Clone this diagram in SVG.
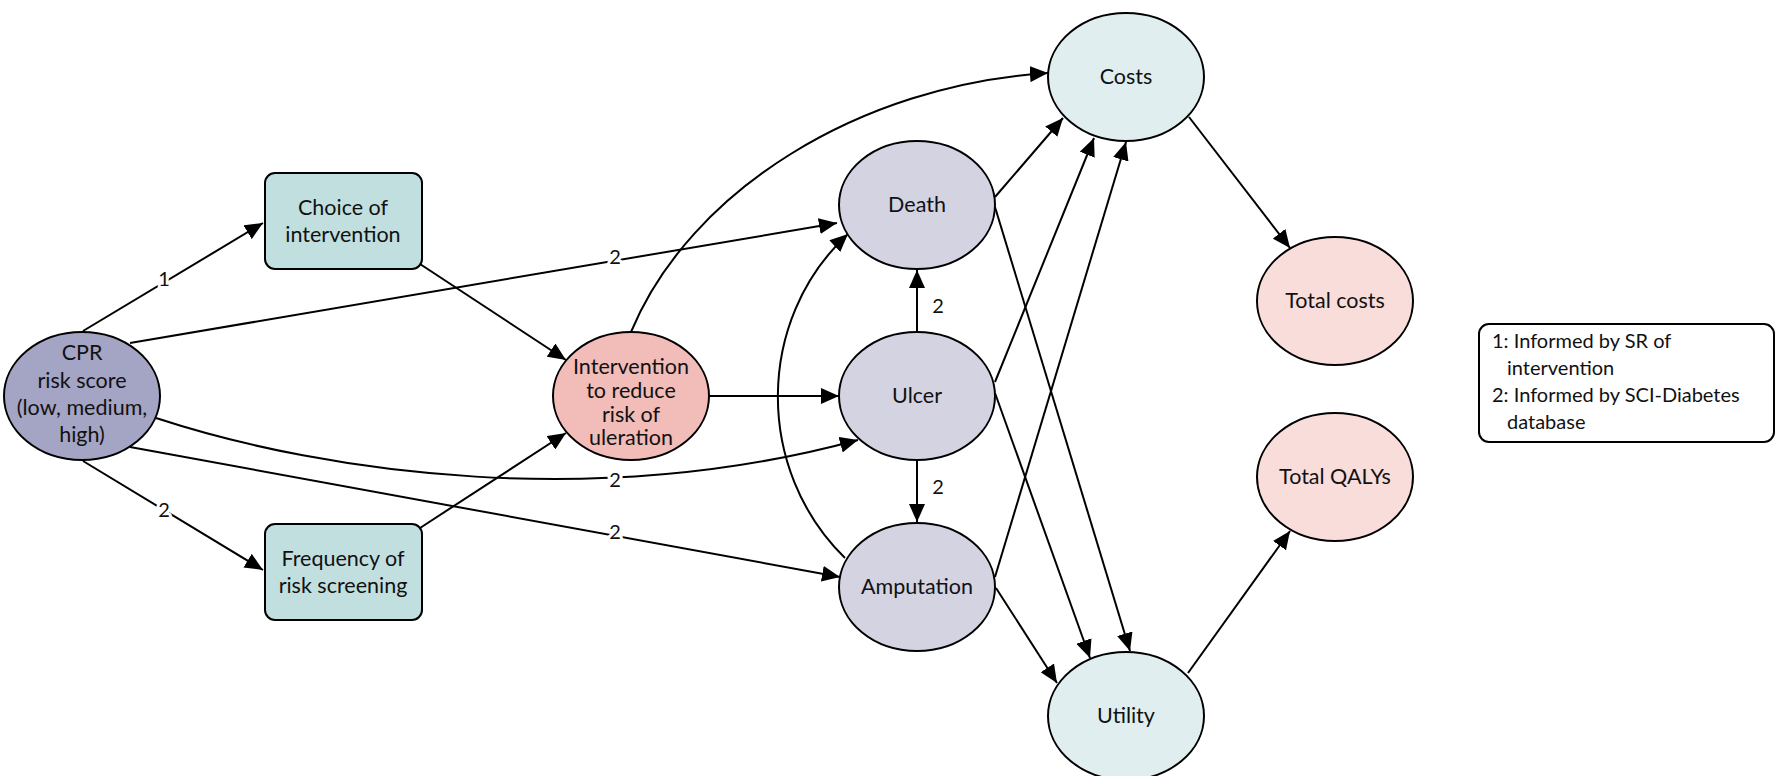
<svg xmlns="http://www.w3.org/2000/svg" width="1785" height="776" viewBox="0 0 1785 776">
<defs>
<marker id="arr" markerWidth="18" markerHeight="16" refX="18" refY="8" orient="auto" markerUnits="userSpaceOnUse">
<path d="M0,0 L18,8 L0,16 Z" fill="#000"/>
</marker>
<style>
text{font-family:Lato,"Noto Sans","Liberation Sans",sans-serif;font-size:21.5px;fill:#111;text-anchor:middle}
.n{stroke:#000;stroke-width:2}
.e{fill:none;stroke:#000;stroke-width:2;marker-end:url(#arr)}
.lbl{font-size:20px;paint-order:stroke;stroke:#fff;stroke-width:6px;stroke-linejoin:round}
.leg{text-anchor:start;font-size:20px}
</style>
</defs>
<rect width="1785" height="776" fill="#fff"/>
<g id="connectors">
<path class="e" d="M83,331 L263,223"/>
<path class="e" d="M83,461 L263,570"/>
<path class="e" d="M130,343 L837,223"/>
<path class="e" d="M156,418 C330,475 600,510 858,440"/>
<path class="e" d="M130,447 L840,577"/>
<path class="e" d="M420,264 L566,360"/>
<path class="e" d="M420,528 L566,433"/>
<path class="e" d="M709,396 L839,396"/>
<path class="e" d="M631,332 C690,190 860,85 1048,73"/>
<path class="e" d="M917,332 L917,270"/>
<path class="e" d="M917,461 L917,522"/>
<path class="e" d="M845,558 C755,470 755,320 848,234"/>
<path class="e" d="M995,197 L1063,118"/>
<path class="e" d="M995,382 L1094,138"/>
<path class="e" d="M995,577 L1126,142"/>
<path class="e" d="M995,207 L1130,651"/>
<path class="e" d="M995,393 L1090,658"/>
<path class="e" d="M996,588 L1057,683"/>
<path class="e" d="M1189,117 L1290,248"/>
<path class="e" d="M1188,673 L1290,531"/>
<text class="lbl" x="164" y="286">1</text>
<text class="lbl" x="164" y="517">2</text>
<text class="lbl" x="615" y="264">2</text>
<text class="lbl" x="615" y="487">2</text>
<text class="lbl" x="615" y="539">2</text>
<text class="lbl" x="938" y="313">2</text>
<text class="lbl" x="938" y="494">2</text>
</g>
<g id="cpr"><ellipse class="n" cx="82" cy="396" rx="78" ry="64" fill="#a4a4c4"/>
<text x="82" y="360">CPR</text><text x="82" y="388">risk score</text><text x="82" y="415">(low, medium,</text><text x="82" y="442">high)</text></g>
<g id="choice"><rect class="n" x="265" y="173" width="157" height="96" rx="10" fill="#c2dfe0"/>
<text x="343" y="215">Choice of</text><text x="343" y="242">intervention</text></g>
<g id="frequency"><rect class="n" x="265" y="524" width="157" height="96" rx="10" fill="#c2dfe0"/>
<text x="343" y="566">Frequency of</text><text x="343" y="593">risk screening</text></g>
<g id="intervention"><ellipse class="n" cx="631" cy="396" rx="78" ry="64" fill="#f2bcb8"/>
<text x="631" y="374">Intervention</text><text x="631" y="398">to reduce</text><text x="631" y="422">risk of</text><text x="631" y="445">uleration</text></g>
<g id="death"><ellipse class="n" cx="917" cy="205" rx="78" ry="64" fill="#d3d3e2"/><text x="917" y="212">Death</text></g>
<g id="ulcer"><ellipse class="n" cx="917" cy="396" rx="78" ry="64" fill="#d3d3e2"/><text x="917" y="403">Ulcer</text></g>
<g id="amputation"><ellipse class="n" cx="917" cy="587" rx="78" ry="64" fill="#d3d3e2"/><text x="917" y="594">Amputation</text></g>
<g id="costs"><ellipse class="n" cx="1126" cy="77" rx="78" ry="64" fill="#e0eeef"/><text x="1126" y="84">Costs</text></g>
<g id="utility"><ellipse class="n" cx="1126" cy="716" rx="78" ry="64" fill="#e0eeef"/><text x="1126" y="723">Utility</text></g>
<g id="totalcosts"><ellipse class="n" cx="1335" cy="301" rx="78" ry="64" fill="#f8dddb"/><text x="1335" y="308">Total costs</text></g>
<g id="totalqalys"><ellipse class="n" cx="1335" cy="477" rx="78" ry="64" fill="#f8dddb"/><text x="1335" y="484">Total QALYs</text></g>
<g id="legend"><rect class="n" x="1479" y="324" width="295" height="118" rx="10" fill="#fff"/>
<text class="leg" x="1492" y="348">1: Informed by SR of</text>
<text class="leg" x="1507" y="375">intervention</text>
<text class="leg" x="1492" y="402">2: Informed by SCI-Diabetes</text>
<text class="leg" x="1507" y="429">database</text></g>
</svg>
